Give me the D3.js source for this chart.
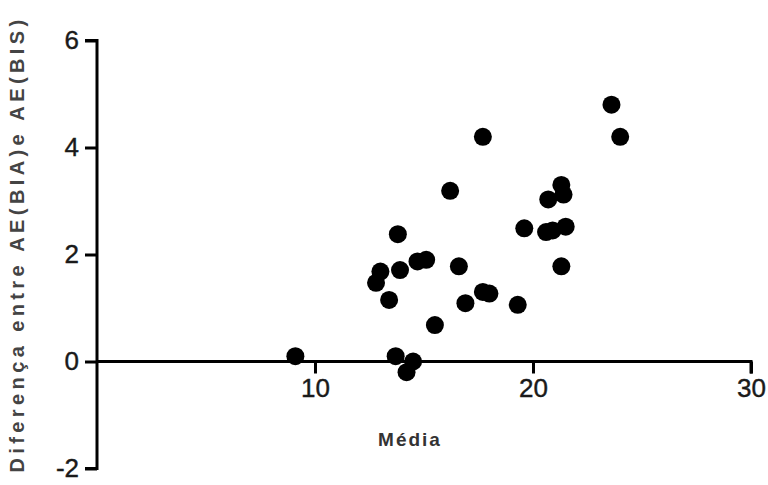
<!DOCTYPE html>
<html>
<head>
<meta charset="utf-8">
<script src="https://cdn.jsdelivr.net/npm/d3@7"></script>
<style>
  body { margin: 0; background: #fff; }
  text { font-family: "Liberation Sans", Arial, sans-serif; }
</style>
</head>
<body>
<script>
// values
var mediaValues = [9.1, 13.0, 12.8, 13.4, 13.9, 13.7, 14.2, 14.5, 14.7, 15.1, 13.8, 15.5, 16.2, 16.6, 16.9,
  17.7, 18.0, 17.7, 19.3, 19.6, 20.6, 20.9, 21.5, 21.3, 20.7, 21.3, 21.4, 23.6, 24.0];
var diffValues = [0.1, 1.68, 1.47, 1.15, 1.71, 0.1, -0.2, 0.0, 1.87, 1.9, 2.38, 0.68, 3.19, 1.78, 1.09,
  1.3, 1.27, 4.2, 1.06, 2.49, 2.42, 2.45, 2.52, 1.78, 3.03, 3.3, 3.12, 4.8, 4.2];
var xTicks = [10, 20, 30];
var yTicks = [-2, 0, 2, 4, 6];

var width = 768,
    height = 485;

var x = d3.scaleLinear().domain([0, 30]).range([97, 751]);
var y = d3.scaleLinear().domain([-2, 6]).range([468.5, 40.5]);

var svg = d3.select("body").append("svg")
    .attr("width", width)
    .attr("height", height);

// y axis at x = 0
var yAxis = svg.append("g")
    .attr("transform", "translate(" + x(0) + ",0)")
    .call(d3.axisLeft(y).tickValues(yTicks).tickSize(12).tickPadding(6).tickFormat(function(d) { return String(d); }));

// x axis at y = 0
var xAxis = svg.append("g")
    .attr("transform", "translate(0," + y(0) + ")")
    .call(d3.axisBottom(x).tickValues(xTicks).tickSize(12).tickPadding(5).tickSizeOuter(0));

[yAxis, xAxis].forEach(function(g) {
  g.select(".domain").attr("stroke", "#000").attr("stroke-width", 3);
  g.selectAll(".tick line").attr("stroke", "#000").attr("stroke-width", 3);
  g.selectAll(".tick text").attr("fill", "#1a1a1a").style("font-size", "26px")
    .attr("stroke", "#1a1a1a").attr("stroke-width", 0.4);
});
yAxis.select(".domain").attr("d", "M-12," + y(6) + "H0V" + y(-2) + "H-12");
xAxis.select(".domain").attr("d", "M0,0H" + (x(30) - x(0)) + "V12").attr("transform", "translate(" + x(0) + ",0)");

svg.append("g")
  .selectAll("circle")
  .data(mediaValues)
  .enter().append("circle")
    .attr("cx", function(d) { return x(d); })
    .attr("cy", function(d, i) { return y(diffValues[i]); })
    .attr("r", 9)
    .attr("fill", "#000");

svg.append("text")
    .attr("x", 410)
    .attr("y", 446)
    .attr("text-anchor", "middle")
    .attr("fill", "#333")
    .style("font-size", "19px")
    .style("font-weight", "bold")
    .style("letter-spacing", "2px")
    .text("Média");

svg.append("text")
    .attr("transform", "translate(24,244) rotate(-90)")
    .attr("text-anchor", "middle")
    .attr("fill", "#444")
    .style("font-size", "20px")
    .style("font-weight", "bold")
    .style("letter-spacing", "4.4px")
    .text("Diferença entre AE(BIA)e AE(BIS)");
</script>
</body>
</html>
